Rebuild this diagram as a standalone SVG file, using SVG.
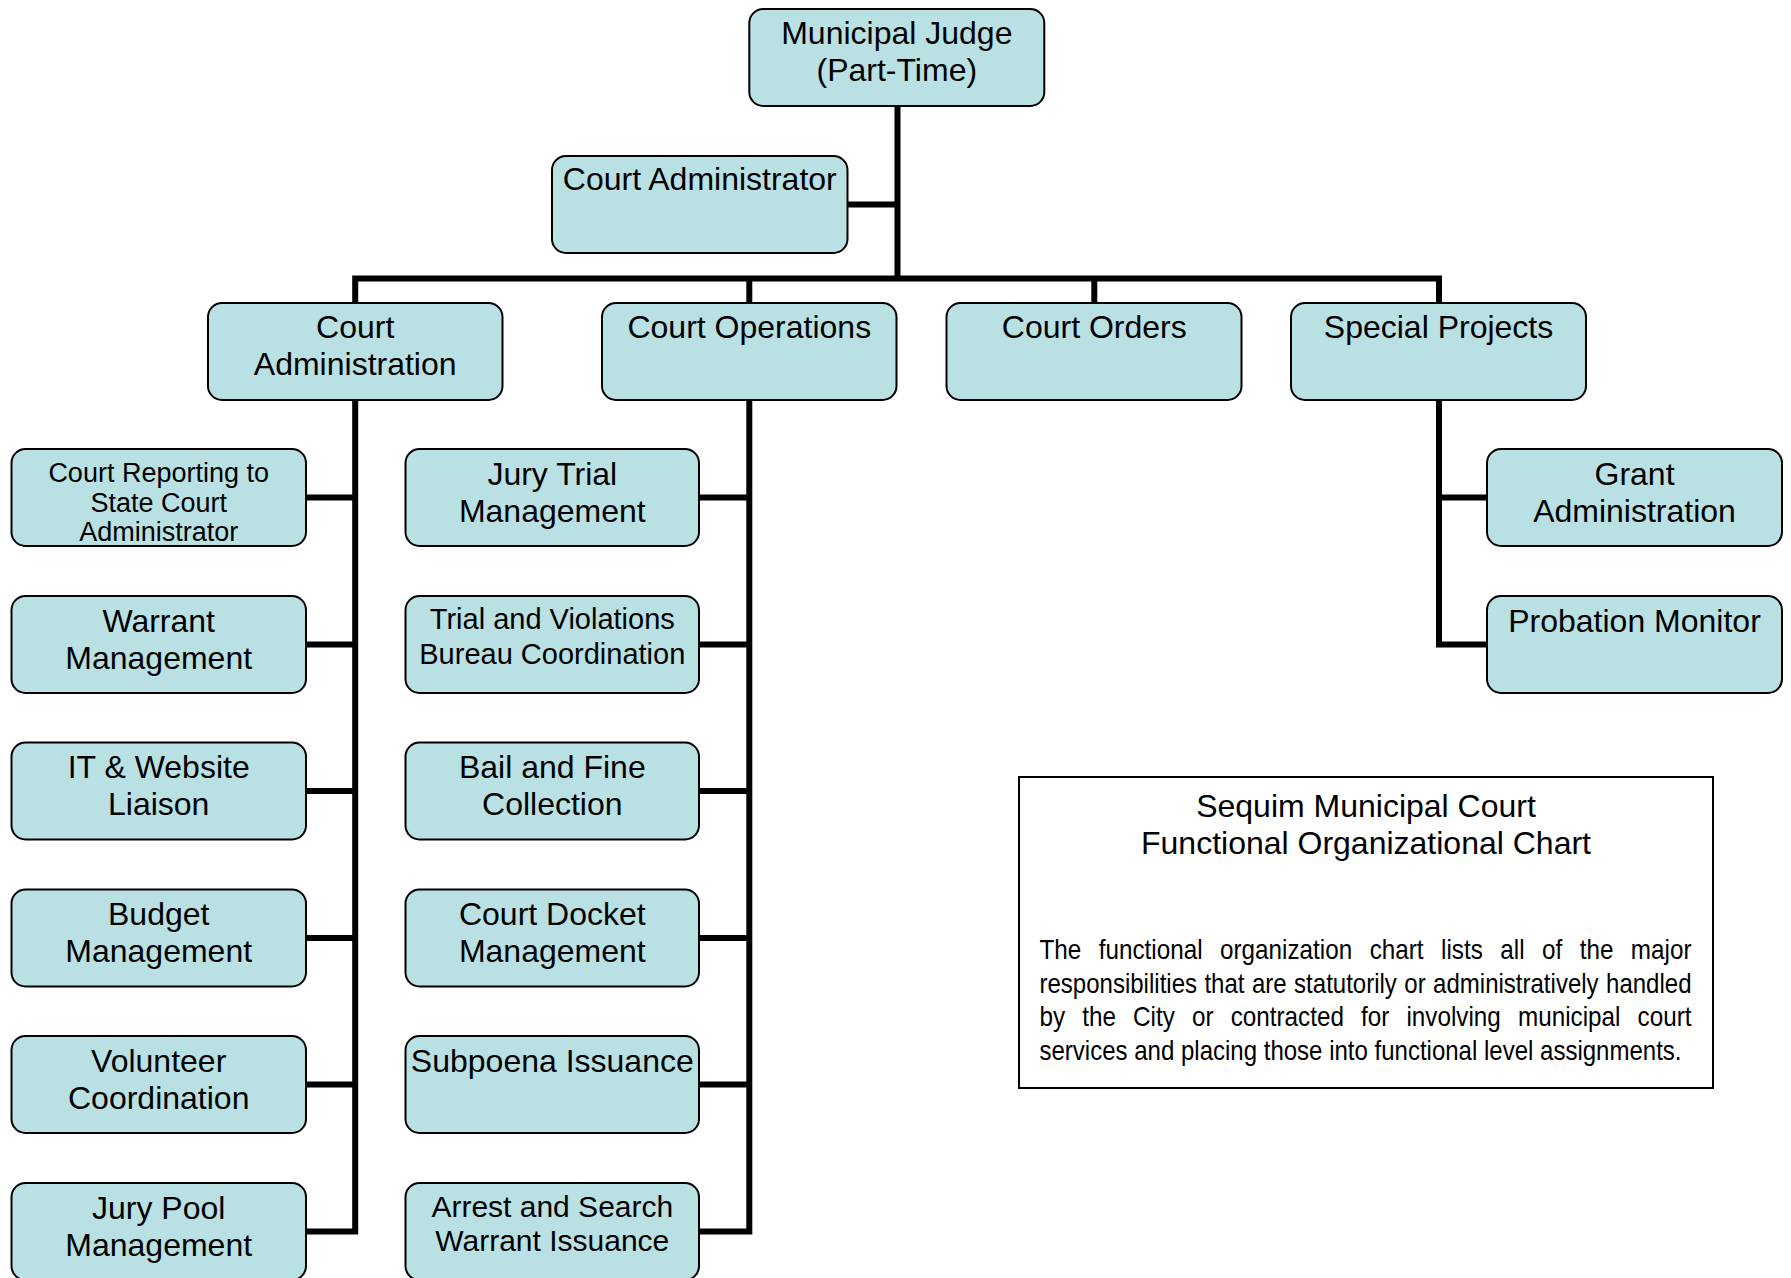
<svg xmlns="http://www.w3.org/2000/svg" width="1791" height="1278" viewBox="0 0 1791 1278">
<style>
.box{fill:#b9e0e3;stroke:#000;stroke-width:2}
.t{font-family:"Liberation Sans",Arial,sans-serif;font-size:32px;text-anchor:middle;fill:#000}
.s27{font-size:27px}
.s29{font-size:29px}
.s30{font-size:30px}
.p{font-family:"Liberation Sans",Arial,sans-serif;font-size:28px;fill:#000}
.c{fill:none;stroke:#000;stroke-width:6;stroke-linejoin:miter;stroke-linecap:butt}
</style>
<rect width="1791" height="1278" fill="#fff"/>
<g id="connectors">
<path class="c" d="M897.5,106 V278.5"/>
<path class="c" d="M847.5,204.5 H897.5"/>
<path class="c" d="M355.2,303 V278.5 H1439 V303"/>
<path class="c" d="M749.3,278.5 V303"/>
<path class="c" d="M1094.3,278.5 V303"/>
<path class="c" d="M355.2,400 V1231.5 H306"/>
<path class="c" d="M306,497.5 H355.2 M306,644.5 H355.2 M306,791 H355.2 M306,938 H355.2 M306,1084.5 H355.2"/>
<path class="c" d="M749.3,400 V1231.5 H699"/>
<path class="c" d="M699,497.5 H749.3 M699,644.5 H749.3 M699,791 H749.3 M699,938 H749.3 M699,1084.5 H749.3"/>
<path class="c" d="M1439,400 V644.5 H1487"/>
<path class="c" d="M1439,497.5 H1487"/>
</g>
<g id="judge"><rect class="box" x="749.3" y="9" width="295" height="97" rx="14"/><text class="t" x="896.8" y="44">Municipal Judge</text><text class="t" x="896.8" y="81">(Part-Time)</text></g>
<g id="court-administrator"><rect class="box" x="552" y="156" width="295.5" height="97" rx="14"/><text class="t" x="699.8" y="190">Court Administrator</text></g>
<g id="court-administration"><rect class="box" x="208" y="303" width="294.5" height="97" rx="14"/><text class="t" x="355.2" y="338">Court</text><text class="t" x="355.2" y="375">Administration</text></g>
<g id="court-operations"><rect class="box" x="602" y="303" width="294.5" height="97" rx="14"/><text class="t" x="749.3" y="338">Court Operations</text></g>
<g id="court-orders"><rect class="box" x="946.5" y="303" width="295" height="97" rx="14"/><text class="t" x="1094.3" y="338">Court Orders</text></g>
<g id="special-projects"><rect class="box" x="1291" y="303" width="295" height="97" rx="14"/><text class="t" x="1438.5" y="338">Special Projects</text></g>

<g id="court-reporting"><rect class="box" x="11.5" y="449" width="294.5" height="97" rx="14"/><text class="t s27" x="158.7" y="482">Court Reporting to</text><text class="t s27" x="158.7" y="511.5">State Court</text><text class="t s27" x="158.7" y="541">Administrator</text></g>
<g id="warrant-management"><rect class="box" x="11.5" y="596" width="294.5" height="97" rx="14"/><text class="t" x="158.7" y="631.5">Warrant</text><text class="t" x="158.7" y="668.5">Management</text></g>
<g id="it-website"><rect class="box" x="11.5" y="742.5" width="294.5" height="97" rx="14"/><text class="t" x="158.7" y="778">IT &amp; Website</text><text class="t" x="158.7" y="815">Liaison</text></g>
<g id="budget-management"><rect class="box" x="11.5" y="889.5" width="294.5" height="97" rx="14"/><text class="t" x="158.7" y="925">Budget</text><text class="t" x="158.7" y="962">Management</text></g>
<g id="volunteer-coordination"><rect class="box" x="11.5" y="1036" width="294.5" height="97" rx="14"/><text class="t" x="158.7" y="1071.5">Volunteer</text><text class="t" x="158.7" y="1108.5">Coordination</text></g>
<g id="jury-pool"><rect class="box" x="11.5" y="1183" width="294.5" height="97" rx="14"/><text class="t" x="158.7" y="1218.5">Jury Pool</text><text class="t" x="158.7" y="1255.5">Management</text></g>

<g id="jury-trial"><rect class="box" x="405.5" y="449" width="293.5" height="97" rx="14"/><text class="t" x="552.3" y="484.5">Jury Trial</text><text class="t" x="552.3" y="521.5">Management</text></g>
<g id="trial-violations"><rect class="box" x="405.5" y="596" width="293.5" height="97" rx="14"/><text class="t s29" x="552.3" y="628.5">Trial and Violations</text><text class="t s29" x="552.3" y="663.5">Bureau Coordination</text></g>
<g id="bail-fine"><rect class="box" x="405.5" y="742.5" width="293.5" height="97" rx="14"/><text class="t" x="552.3" y="778">Bail and Fine</text><text class="t" x="552.3" y="815">Collection</text></g>
<g id="court-docket"><rect class="box" x="405.5" y="889.5" width="293.5" height="97" rx="14"/><text class="t" x="552.3" y="925">Court Docket</text><text class="t" x="552.3" y="962">Management</text></g>
<g id="subpoena"><rect class="box" x="405.5" y="1036" width="293.5" height="97" rx="14"/><text class="t" x="552.3" y="1072">Subpoena Issuance</text></g>
<g id="arrest-search"><rect class="box" x="405.5" y="1183" width="293.5" height="97" rx="14"/><text class="t s30" x="552.3" y="1216.5">Arrest and Search</text><text class="t s30" x="552.3" y="1250.5">Warrant Issuance</text></g>

<g id="grant-administration"><rect class="box" x="1487" y="449" width="295" height="97" rx="14"/><text class="t" x="1634.5" y="484.5">Grant</text><text class="t" x="1634.5" y="521.5">Administration</text></g>
<g id="probation-monitor"><rect class="box" x="1487" y="596" width="295" height="97" rx="14"/><text class="t" x="1634.5" y="631.5">Probation Monitor</text></g>

<g id="note">
<rect x="1019" y="777" width="694" height="311" fill="#fff" stroke="#000" stroke-width="2"/>
<text class="t" x="1366" y="817">Sequim Municipal Court</text>
<text class="t" x="1366" y="854">Functional Organizational Chart</text>
<text class="p" x="1039.5" y="959" word-spacing="12.35" textLength="652" lengthAdjust="spacingAndGlyphs">The functional organization chart lists all of the major</text>
<text class="p" x="1039.5" y="992.5" word-spacing="0.9" textLength="652" lengthAdjust="spacingAndGlyphs">responsibilities that are statutorily or administratively handled</text>
<text class="p" x="1039.5" y="1026" word-spacing="11.96" textLength="652" lengthAdjust="spacingAndGlyphs">by the City or contracted for involving municipal court</text>
<text class="p" x="1039.5" y="1059.5" textLength="642" lengthAdjust="spacingAndGlyphs">services and placing those into functional level assignments.</text>
</g>
</svg>
